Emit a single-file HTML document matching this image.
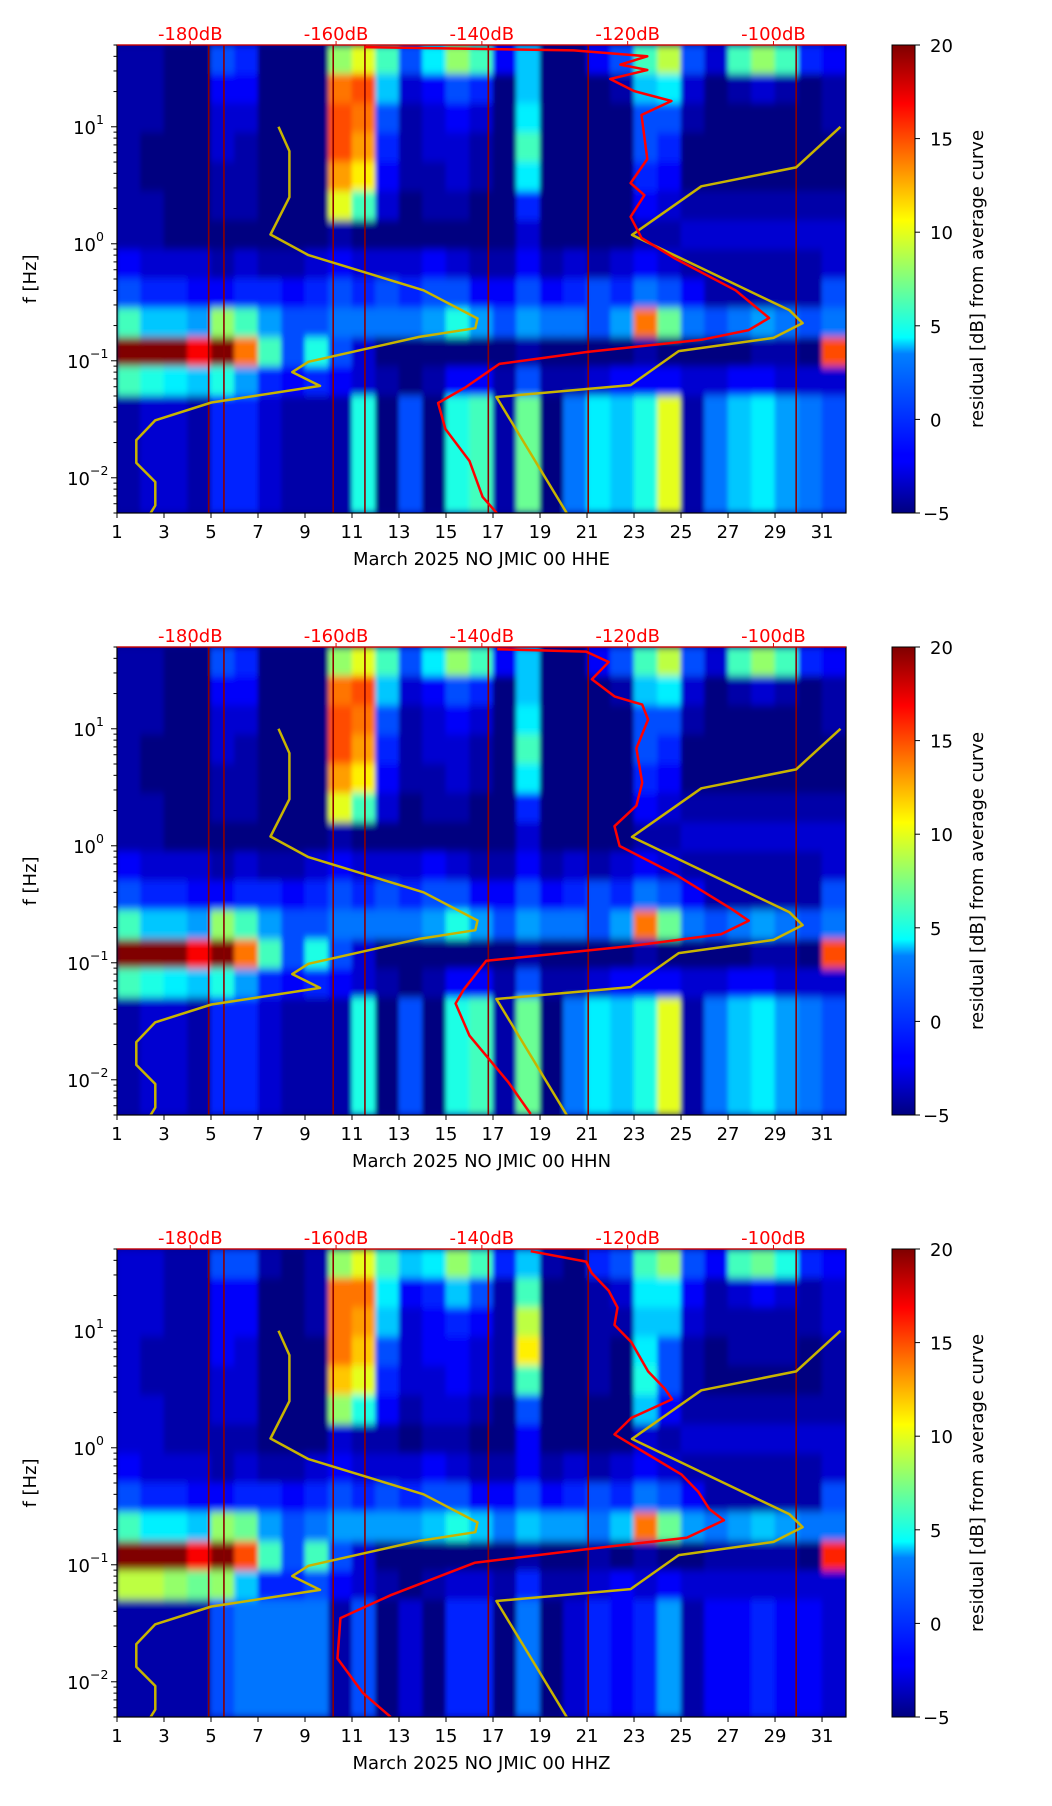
<!DOCTYPE html>
<html><head><meta charset="utf-8">
<style>
body{margin:0;background:#fff;}
svg{display:block;font-family:"DejaVu Sans","Liberation Sans",sans-serif;}
</style></head>
<body>
<svg id="fig" width="1052" height="1806" viewBox="0 0 1052 1806" xmlns="http://www.w3.org/2000/svg">
<defs>
<linearGradient id="jet" x1="0" y1="1" x2="0" y2="0">
<stop offset="0" stop-color="#00007f"/><stop offset="0.11" stop-color="#0000ff"/><stop offset="0.125" stop-color="#0000ff"/>
<stop offset="0.34" stop-color="#0080ff"/><stop offset="0.375" stop-color="#00ffff"/><stop offset="0.5" stop-color="#80ff80"/>
<stop offset="0.625" stop-color="#ffff00"/><stop offset="0.75" stop-color="#ff8000"/><stop offset="0.875" stop-color="#ff0000"/>
<stop offset="1" stop-color="#7f0000"/></linearGradient>
<filter id="soft" x="-2%" y="-2%" width="104%" height="104%"><feGaussianBlur stdDeviation="2 4" edgeMode="duplicate"/></filter>
</defs>
</svg>
<script>
// ---- data ----
const days = [1,3,5,7,9,11,13,15,17,19,21,23,25,27,29,31];
const dbTicks = [-180,-160,-140,-120,-100];
const cbTicks = [-5,0,5,10,15,20];
const yTickExp = [1,0,-1,-2];
const channels = ["HHE","HHN","HHZ"];
const eventDays = [4.9,5.55,10.2,11.55,16.8,21.05,29.9];
// residual grid: 16 frequency bands (top=50Hz, 0.25 decade each) x 31 days
const gridHHE = [
[-4,-4,-5,-5,0,-1,-5,-5,-5,8,10,6,0,4,8,6,-2,3,-5,-5,-2,0,6,9,0,-3,6,8,6,-1,-2],
[-4,-4,-5,-5,-2,-2,-5,-5,-5,14,15,3,-3,-2,0,-1,-5,3,-5,-5,-5,-4,3,4,-3,-5,-4,-3,-4,-5,-4],
[-4,-4,-5,-5,-3,-3,-5,-5,-5,15,14,0,-4,-3,-2,-3,-5,4,-5,-5,-5,-5,0,0,-4,-5,-5,-5,-5,-5,-4],
[-4,-5,-5,-5,-3,-4,-5,-5,-5,15,13,-1,-4,-3,-3,-4,-5,6,-5,-5,-5,-5,0,-1,-5,-5,-5,-5,-5,-5,-5],
[-4,-5,-5,-5,-4,-4,-5,-5,-5,13,11,-2,-4,-4,-3,-4,-5,4,-5,-5,-5,-5,-1,-2,-5,-5,-5,-5,-5,-5,-5],
[-4,-4,-5,-5,-4,-4,-5,-5,-5,10,6,-3,-5,-4,-4,-5,-5,-1,-5,-5,-5,-5,-2,-3,-4,-4,-4,-4,-4,-4,-4],
[-4,-4,-5,-5,-5,-5,-5,-5,-5,-4,-5,-5,-5,-5,-5,-5,-5,-3,-5,-5,-5,-5,-4,-4,-3,-3,-3,-3,-3,-3,-3],
[-2,-3,-3,-3,-4,-3,-4,-4,-3,-2,-3,-3,-3,-2,-3,-4,-4,-2,-4,-3,-4,-3,-2,-3,-4,-4,-4,-4,-4,-4,-3],
[0,-1,-1,-2,-2,-1,-1,-2,-1,0,-1,0,-1,0,0,-2,-2,0,-2,-1,0,-1,1,0,-2,-4,-4,-4,-4,-4,0],
[6,3,3,2,8,6,2,0,0,1,1,1,1,2,5,2,0,2,1,1,0,2,14,7,1,0,1,2,1,0,1],
[20,20,20,17,20,14,6,0,5,0,-3,-5,-5,-5,-5,-5,-5,-4,-5,-5,-5,-5,-4,-5,-5,-5,-5,-4,-4,-5,15],
[6,5,4,3,5,2,-1,-2,-1,-2,-3,-4,-5,-4,-2,-2,-4,0,-4,-4,-3,-2,-2,-2,-3,-3,-2,-2,-3,-3,-3],
[-4,-3,-3,-4,-1,-1,-3,-4,-4,-4,5,-5,0,-5,5,6,-4,7,-5,1,4,3,5,10,-4,1,3,4,2,1,0],
[-4,-3,-3,-4,-1,-1,-3,-4,-4,-4,5,-5,0,-5,5,6,-4,7,-5,1,4,3,5,10,-4,1,3,4,2,1,0],
[-4,-3,-3,-4,-1,-1,-3,-4,-4,-4,5,-5,0,-5,5,6,-4,7,-5,1,4,3,5,10,-4,1,3,4,2,1,0],
[-4,-3,-3,-4,-1,-1,-3,-4,-4,-4,5,-5,0,-5,5,6,-4,7,-5,1,4,3,5,10,-4,1,3,4,2,1,0]];
const gridHHN = gridHHE;
const gridHHZ = [
[-3,-3,-4,-4,0,0,-4,-5,-4,8,10,6,3,4,8,6,-1,3,-4,-5,-1,0,6,8,0,-2,6,7,5,-1,-2],
[-3,-3,-4,-4,-2,-2,-5,-5,-4,14,14,4,-2,-1,3,0,-4,6,-5,-5,-4,-3,4,4,-2,-4,-3,-2,-3,-4,-3],
[-3,-3,-4,-4,-2,-2,-5,-5,-4,14,13,3,-3,-2,-1,-2,-4,9,-5,-5,-4,-4,3,3,-3,-4,-4,-4,-4,-4,-3],
[-3,-4,-4,-4,-2,-3,-5,-5,-5,14,12,0,-3,-2,-2,-3,-4,11,-5,-5,-4,-5,4,0,-4,-5,-4,-4,-4,-5,-4],
[-3,-4,-4,-4,-3,-3,-5,-5,-5,12,10,-1,-3,-3,-2,-3,-4,6,-5,-5,-4,-5,5,0,-4,-5,-5,-5,-5,-5,-4],
[-3,-3,-4,-4,-3,-3,-5,-5,-5,8,5,-2,-4,-3,-3,-4,-5,0,-5,-5,-5,-5,3,-2,-4,-4,-4,-4,-4,-4,-4],
[-3,-3,-4,-4,-4,-4,-5,-5,-5,-3,-4,-4,-5,-4,-4,-5,-5,-2,-5,-5,-5,-5,-3,-4,-3,-3,-3,-3,-3,-3,-3],
[-2,-3,-3,-3,-4,-3,-4,-4,-3,-2,-3,-3,-3,-2,-3,-4,-4,-2,-4,-3,-4,-3,-2,-3,-4,-4,-4,-4,-4,-4,-3],
[0,-1,-1,-2,-2,-1,-1,-2,-1,0,-1,0,-1,0,0,-2,-2,0,-2,-1,0,-1,1,0,-2,-4,-4,-4,-4,-4,0],
[6,4,4,3,8,7,2,0,1,2,2,2,2,3,5,3,1,3,2,2,1,3,14,7,2,1,2,3,2,1,1],
[20,20,20,17,20,15,6,0,6,0,-3,-5,-5,-5,-5,-5,-5,-4,-5,-5,-4,-5,-4,-5,-5,-4,-4,-4,-4,-5,16],
[9,9,8,7,8,3,-1,-1,0,-2,-3,-4,-5,-4,-3,-3,-4,-1,-4,-4,-3,-2,-3,-2,-3,-3,-3,-3,-3,-3,-3],
[-4,-4,-4,-4,0,1,1,1,1,-4,0,-5,-3,-5,-1,-1,-5,1,-5,-3,-1,-2,-1,2,-4,-2,-2,-1,-2,-2,-3],
[-4,-4,-4,-4,0,1,1,1,1,-4,0,-5,-3,-5,-1,-1,-5,1,-5,-3,-1,-2,-1,2,-4,-2,-2,-1,-2,-2,-3],
[-4,-4,-4,-4,0,1,1,1,1,-4,0,-5,-3,-5,-1,-1,-5,1,-5,-3,-1,-2,-1,2,-4,-2,-2,-1,-2,-2,-3],
[-4,-4,-4,-4,0,1,1,1,1,-4,0,-5,-3,-5,-1,-1,-5,1,-5,-3,-1,-2,-1,2,-4,-2,-2,-1,-2,-2,-3]];
// noise models [dB, Hz]
const nlnmDb = [-167.9,-166.4,-166.4,-169.0,-163.8,-148.0,-140.6,-140.9,-148.6,-163.8,-166.0,-162.2,-177.1,-184.8,-187.4,-187.4,-184.8,-184.8,-185.7];
const nlnmHz = [10,6.2,2.5,1.2,0.8,0.40,0.23,0.19,0.16,0.098,0.080,0.061,0.044,0.031,0.021,0.0134,0.0092,0.0058,0.0047];
const nhnmDb = [-90.8,-96.9,-109.9,-119.4,-97.8,-96.0,-100.0,-113.0,-119.6,-138.0,-128.1];
const nhnmHz = [10,4.5,3.1,1.19,0.27,0.21,0.157,0.121,0.062,0.049,0.0047];
// average PSD curves per channel
const psdHHEDb = [-156.1,-127.4,-117.3,-121.0,-117.3,-122.4,-119.1,-114.0,-118.1,-117.3,-119.6,-117.7,-119.6,-118.1,-113.6,-105.2,-100.6,-103.4,-109.9,-125.5,-137.6,-142.3,-146.0,-145.0,-141.7,-139.9,-137.6];
const psdHHEHz = [48,45,40,34,30.6,25.6,20.2,16.6,12.6,5.3,3.3,2.6,1.7,1.12,0.755,0.40,0.232,0.183,0.151,0.119,0.094,0.059,0.0436,0.0261,0.0139,0.00686,0.0047];
const psdHHNDb = [-137.9,-125.7,-122.6,-124.9,-121.8,-118.0,-117.2,-118.8,-118.0,-118.8,-121.8,-121.1,-113.4,-105.7,-103.4,-107.2,-119.5,-139.4,-142.5,-143.6,-141.7,-136.4,-133.3];
const psdHHNHz = [47.9,45.7,37.2,26.5,18.9,16.1,12.0,6.8,3.46,2.2,1.47,0.995,0.566,0.287,0.229,0.175,0.139,0.104,0.0589,0.0449,0.0238,0.0096,0.0051];
const psdHHZDb = [-133.3,-125.7,-124.9,-122.6,-121.4,-121.8,-119.5,-117.2,-114.9,-113.9,-119.5,-121.8,-117.9,-112.6,-110.3,-108.8,-106.8,-111.9,-125.7,-141.0,-152.5,-159.4,-159.8,-156.3,-152.5];
const psdHHZHz = [47.9,39,31,22,15.8,11.2,8,4.5,3.2,2.6,1.8,1.3,0.93,0.59,0.42,0.30,0.24,0.17,0.136,0.104,0.055,0.035,0.0158,0.008,0.005];
const grids = [gridHHE,gridHHN,gridHHZ];
const psdDb = [psdHHEDb,psdHHNDb,psdHHZDb];
const psdHz = [psdHHEHz,psdHHNHz,psdHHZHz];

// ---- layout ----
const NS="http://www.w3.org/2000/svg";
const svg=document.getElementById('fig');
const PL=117, PR=846, PH=468, CBL=892, CBR=915, FS=18;
const LOGTOP=Math.log10(50), LOGBOT=Math.log10(50)-4;
const dayX=d=>PL+(d-1)*(PR-PL)/31.02;
const dbX=v=>PL+(v+190.05)*(PR-PL)/100;
function mk(tag,attrs,parent){const e=document.createElementNS(NS,tag);for(const k in attrs)e.setAttribute(k,attrs[k]);(parent||svg).appendChild(e);return e;}
function jet(v){let t=(v+5)/25;t=Math.max(0,Math.min(1,t));
 const r=Math.max(0,Math.min(1,1.5-Math.abs(4*t-3))),g=Math.max(0,Math.min(1,1.5-Math.abs(4*t-2))),b=Math.max(0,Math.min(1,1.5-Math.abs(4*t-1)));
 return `rgb(${Math.round(r*255)},${Math.round(g*255)},${Math.round(b*255)})`;}

channels.forEach((ch,p)=>{
 const T=45+p*602, B=T+PH;
 const fY=f=>T+(LOGTOP-Math.log10(f))/(LOGTOP-LOGBOT)*PH;
 const g=mk('g',{});
 
 
 const clipId='clip'+p;
 const cp=mk('clipPath',{id:clipId},g);mk('rect',{x:PL,y:T,width:PR-PL,height:PH},cp);
 const hm=mk('g',{'clip-path':`url(#${clipId})`},g);
 
 
 mk('rect',{x:PL,y:T,width:PR-PL,height:PH,fill:'#00008f'},hm);
 const cells=mk('g',{filter:'url(#soft)'},hm);
 const grid=grids[p];
 grid.forEach((row,r)=>{
  const y0=fY(Math.pow(10,LOGTOP-r*0.25)), y1=fY(Math.pow(10,LOGTOP-(r+1)*0.25));
  row.forEach((v,c)=>{
   const x0=dayX(c+1), x1=dayX(c+2)+(c==30?3:0);
   const rc=mk('rect',{x:x0-0.3,y:y0-0.3,width:x1-x0+0.6,height:y1-y0+0.6,fill:jet(v)},cells);
   
   
  });
 });
 eventDays.forEach(d=>{const l=mk('line',{x1:dayX(d),x2:dayX(d),y1:T,y2:B,stroke:'#8a0000','stroke-width':1.6},hm);
  });
 const line=(dbs,hzs,col,name)=>{const pts=dbs.map((v,i)=>dbX(v).toFixed(1)+','+fY(hzs[i]).toFixed(1)).join(' ');
  const pl=mk('polyline',{points:pts,fill:'none',stroke:col,'stroke-width':2.5,'stroke-linejoin':'round'},hm);
  };
 line(nlnmDb,nlnmHz,'#c8b400','nlnm-curve');
 line(nhnmDb,nhnmHz,'#c8b400','nhnm-curve');
 line(psdDb[p],psdHz[p],'#ff0000','psd-curve');
 const fr=mk('rect',{x:PL,y:T,width:PR-PL,height:PH,fill:'none',stroke:'#000','stroke-width':1.2},g);
 
 mk('line',{x1:PL,x2:PR,y1:T,y2:T,stroke:'#e00000','stroke-width':1.2},g);
 days.forEach(d=>{const x=dayX(d);mk('line',{x1:x,x2:x,y1:B,y2:B+5,stroke:'#000','stroke-width':1},g);
  const t=mk('text',{x:x,y:B+25,'font-size':FS,'text-anchor':'middle'},g);t.textContent=d;
  });
 const xl=mk('text',{x:(PL+PR)/2,y:B+52,'font-size':FS,'text-anchor':'middle'},g);xl.textContent='March 2025 NO JMIC 00 '+ch;
 
 dbTicks.forEach(v=>{const x=dbX(v);mk('line',{x1:x,x2:x,y1:T,y2:T-4,stroke:'#e00000','stroke-width':1},g);
  const t=mk('text',{x:x,y:T-5,'font-size':FS,'text-anchor':'middle',fill:'#ff0000'},g);t.textContent=v+'dB';
  });
 for(let e=-3;e<=1;e++){for(let m=1;m<10;m++){const f=m*Math.pow(10,e);if(f<0.005||f>50)continue;
  const y=fY(f);mk('line',{x1:PL,x2:PL-(m==1?6:3.5),y1:y,y2:y,stroke:'#000','stroke-width':1},g);}}
 yTickExp.forEach(e=>{const y=fY(Math.pow(10,e));
  const t=mk('text',{x:PL-(e<0?27:21),y:y+7,'font-size':FS,'text-anchor':'end'},g);t.textContent='10';
  
  const s=mk('text',{x:PL-(e<0?27:21),y:y-3,'font-size':12.5,'text-anchor':'start'},g);s.textContent=(e<0?'\u2212':'')+Math.abs(e);});
 const yl=mk('text',{x:0,y:0,'font-size':FS,'text-anchor':'middle',transform:`translate(36,${T+PH/2}) rotate(-90)`},g);yl.textContent='f [Hz]';
 
 const cb=mk('rect',{x:CBL,y:T,width:CBR-CBL,height:PH,fill:'url(#jet)',stroke:'#000','stroke-width':1},g);
 
 cbTicks.forEach(v=>{const y=B-(v+5)/25*PH;mk('line',{x1:CBR,x2:CBR+5,y1:y,y2:y,stroke:'#000','stroke-width':1},g);
  const t=mk('text',{x:CBR+15,y:y+7,'font-size':FS},g);t.textContent=v<0?'\u2212'+Math.abs(v):v;
  if(v<0)t.setAttribute('x',CBR+8);
  });
 const cl=mk('text',{x:0,y:0,'font-size':FS,'text-anchor':'middle',transform:`translate(983,${T+PH/2}) rotate(-90)`},g);cl.textContent='residual [dB] from average curve';
 
});
</script>
</body></html>
